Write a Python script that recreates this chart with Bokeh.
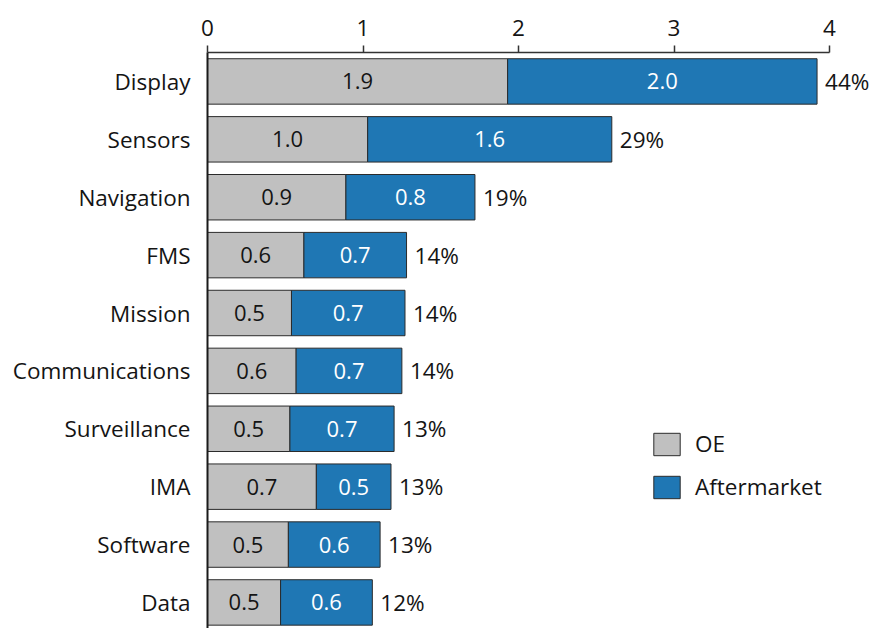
from bokeh.plotting import figure
from bokeh.models import ColumnDataSource, FixedTicker, Range1d, Legend, LegendItem
from bokeh.core.properties import value
from bokeh.embed import file_html
from bokeh.resources import INLINE

# Segment values per category (OE portion first, then aftermarket)
categories = ["Display", "Sensors", "Navigation", "FMS", "Mission",
              "Communications", "Surveillance", "IMA", "Software", "Data"]
oe = [1.93, 1.03, 0.89, 0.62, 0.54, 0.57, 0.53, 0.70, 0.52, 0.47]
aftermarket = [1.99, 1.57, 0.83, 0.66, 0.73, 0.68, 0.67, 0.48, 0.59, 0.59]
share = [44, 29, 19, 14, 14, 14, 13, 13, 13, 12]
x_ticks = [0, 1, 2, 3, 4]

FONT = "Open Sans"
TEXT = "#141414"
GREY = "#c0c0c0"
BLUE = "#1f77b4"
EDGE = "#2b2b2b"

n = len(categories)
ypos = [n - 1 - i for i in range(n)]
totals = [a + b for a, b in zip(oe, aftermarket)]

src = ColumnDataSource(dict(
    y=ypos,
    oe=oe,
    af=aftermarket,
    total=totals,
    oe_mid=[v / 2 for v in oe],
    af_mid=[a + b / 2 for a, b in zip(oe, aftermarket)],
    oe_lbl=[f"{v:.1f}" for v in oe],
    af_lbl=[f"{v:.1f}" for v in aftermarket],
    share_lbl=[f"{s}%" for s in share],
))

p = figure(width=874, height=628, output_backend="svg", toolbar_location=None,
           x_range=Range1d(0, 667 / 155.5), y_range=Range1d(-0.45, 9.5),
           x_axis_location="above",
           min_border_left=207, min_border_right=0, min_border_top=52,
           min_border_bottom=0)
p.outline_line_color = None
p.xgrid.visible = False
p.ygrid.visible = False
p.background_fill_color = "white"

bh = 0.785
r_oe = p.hbar(y="y", left=0, right="oe", height=bh, source=src,
              fill_color=GREY, line_color=EDGE, line_width=1)
r_af = p.hbar(y="y", left="oe", right="total", height=bh, source=src,
              fill_color=BLUE, line_color=EDGE, line_width=1)

p.text(x="oe_mid", y="y", text="oe_lbl", source=src, text_align="center",
       text_baseline="middle", text_font=value(FONT), text_font_size="22px",
       text_color=TEXT)
p.text(x="af_mid", y="y", text="af_lbl", source=src, text_align="center",
       text_baseline="middle", text_font=value(FONT), text_font_size="22px",
       text_color="white")
p.text(x="total", y="y", text="share_lbl", source=src, x_offset=8,
       text_align="left", text_baseline="middle", text_font=value(FONT),
       text_font_size="22.5px", text_color=TEXT)

# top value axis
xa = p.xaxis[0]
xa.ticker = FixedTicker(ticks=x_ticks)
xa.bounds = (0, 4)
xa.major_tick_out = 7
xa.major_tick_in = 0
xa.minor_tick_line_color = None
xa.axis_line_color = "#333333"
xa.axis_line_width = 1.5
xa.major_tick_line_color = "#333333"
xa.major_tick_line_width = 1.5
xa.major_label_text_font = FONT
xa.major_label_text_font_size = "22.5px"
xa.major_label_text_color = TEXT
xa.major_label_standoff = 10

# category axis
ya = p.yaxis[0]
ya.ticker = FixedTicker(ticks=ypos)
ya.major_label_overrides = {yv: c for yv, c in zip(ypos, categories)}
ya.major_tick_line_color = None
ya.major_tick_out = 0
ya.minor_tick_line_color = None
ya.axis_line_color = "#1a1a1a"
ya.axis_line_width = 2
ya.major_label_text_font = FONT
ya.major_label_text_font_size = "22.5px"
ya.major_label_text_color = TEXT
ya.major_label_standoff = 17

legend = Legend(items=[LegendItem(label="OE", renderers=[r_oe]),
                       LegendItem(label="Aftermarket", renderers=[r_af])],
                location=(443, 126), orientation="vertical")
legend.glyph_width = 33
legend.glyph_height = 28
legend.label_height = 28
legend.spacing = 12
legend.label_standoff = 12
legend.padding = 0
legend.margin = 0
legend.border_line_color = None
legend.background_fill_alpha = 0
legend.label_text_font = FONT
legend.label_text_font_size = "22.5px"
legend.label_text_color = TEXT
p.add_layout(legend)

open("out.html", "w").write(file_html(p, INLINE))
